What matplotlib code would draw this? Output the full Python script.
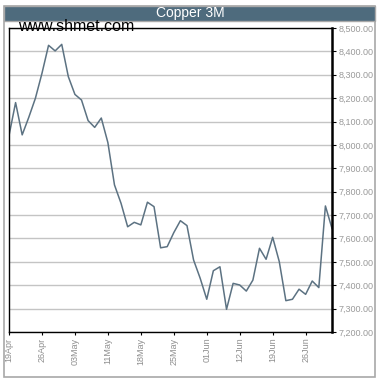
import matplotlib
matplotlib.use('Agg')
import matplotlib.pyplot as plt
from matplotlib.patches import Rectangle
import numpy as np

# Copper 3M daily prices (one point per trading day)
prices = [8040, 8181, 8043, 8118, 8199, 8306, 8426, 8402, 8430, 8292,
          8216, 8192, 8104, 8075, 8115, 8010, 7829, 7750, 7650, 7669,
          7658, 7755, 7736, 7560, 7565, 7625, 7676, 7655, 7508, 7430,
          7340, 7462, 7479, 7297, 7408, 7401, 7375, 7422, 7558, 7511,
          7605, 7501, 7334, 7340, 7383, 7361, 7418, 7390, 7739, 7643]
date_labels = ['19Apr', '26Apr', '03May', '11May', '18May',
               '25May', '01Jun', '12Jun', '19Jun', '26Jun']
y_ticks = [7200, 7300, 7400, 7500, 7600, 7700, 7800, 7900,
           8000, 8100, 8200, 8300, 8400, 8500]

W, H = 382, 387
fig = plt.figure(figsize=(W / 100, H / 100), dpi=100)
fig.patch.set_facecolor('white')

# outer frame + title bar (figure pixel coords)
def px(x, y):
    return x / W, 1 - y / H

fx, fy = px(4, 377)
fig.patches.append(Rectangle((fx, fy), 371 / W, 371 / H, transform=fig.transFigure,
                             fill=False, edgecolor='#a8a8a8', lw=1.2))
bx, by = px(4, 21)
fig.patches.append(Rectangle((bx, by), 371 / W, 15 / H, transform=fig.transFigure,
                             facecolor='#4e6b7d', edgecolor='#a8a8a8', lw=1.0))
fig.text(190 / W, 1 - 13.5 / H, 'Copper 3M', color='white', fontsize=10,
         ha='center', va='center', family='Liberation Sans')

ax = fig.add_axes([9 / W, 55 / H, 323 / W, 304 / H])
x = np.arange(len(prices))
ax.plot(x, prices, color='#5c7282', lw=1.1)
ax.set_xlim(0, len(prices) - 1)
ax.set_ylim(7200, 8500)

ax.yaxis.tick_right()
ax.set_yticks(y_ticks)
ax.set_yticklabels(['{:,.2f}'.format(v) for v in y_ticks])
ax.set_xticks(x[::5])
ax.set_xticklabels(date_labels, rotation=90)
ax.tick_params(axis='y', length=3, width=0.8, pad=2, labelsize=6.5,
               labelcolor='#9a9a9a', labelfontfamily='Liberation Sans')
ax.tick_params(axis='x', length=2, width=0.8, pad=2, labelsize=6.5,
               labelcolor='#8e8e8e', labelfontfamily='Liberation Sans')
ax.grid(axis='y', color='#c4c4c4', lw=1.0)
ax.set_axisbelow(True)
for side in ['left', 'top', 'bottom']:
    ax.spines[side].set_linewidth(1.0)
ax.spines['right'].set_linewidth(1.8)

# watermark, overlapping the top spine like the original
fig.text(18 / W, 1 - 26.5 / H, 'www.shmet.com', color='black', fontsize=11.5,
         ha='left', va='center', family='Liberation Sans', zorder=10)

fig.savefig('out.png', dpi=100)
